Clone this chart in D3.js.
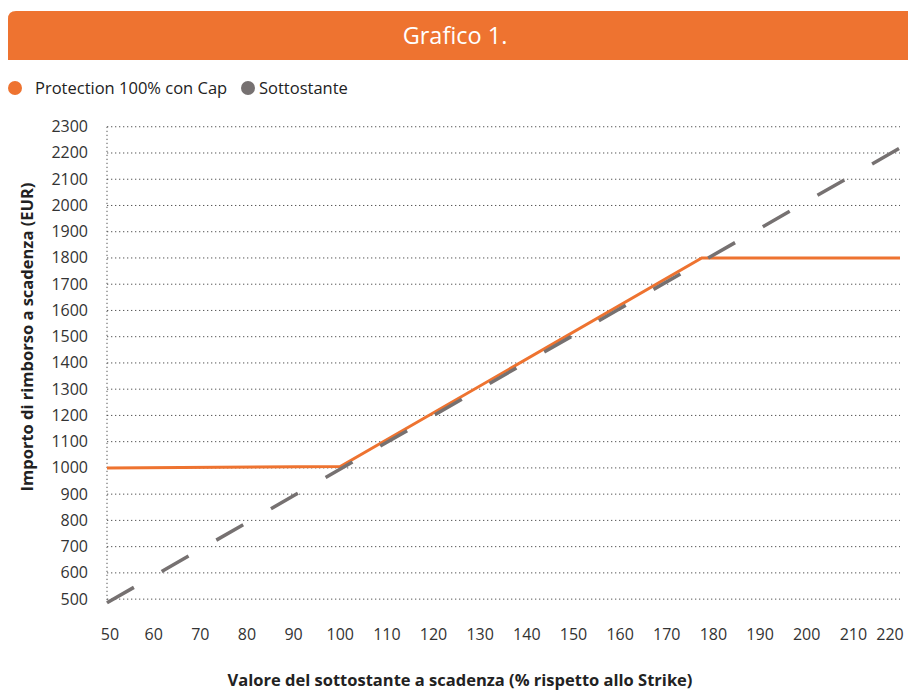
<!DOCTYPE html>
<html lang="it">
<head>
  <meta charset="UTF-8">
  <title>Grafico 1.</title>
  <script src="https://d3js.org/d3.v7.min.js"></script>
  <style>
    body { margin: 0; background: #fff; }
    svg { display: block; font-family: "Open Sans", sans-serif; }
    .grid line { stroke: #555; stroke-width: 1; stroke-dasharray: 1.3,2.7; }
    .tick-label { font-size: 16px; fill: #333; }
    .axis-title { font-size: 16.5px; font-weight: bold; fill: #222; }
  </style>
</head>
<body>
  <svg width="908" height="691"></svg>
  <script>
    // valori
    const xTicks = [50, 60, 70, 80, 90, 100, 110, 120, 130, 140, 150, 160, 170, 180, 190, 200, 210, 220];
    const yTicks = [500, 600, 700, 800, 900, 1000, 1100, 1200, 1300, 1400, 1500, 1600, 1700, 1800, 1900, 2000, 2100, 2200, 2300];
    const protectionX = [50, 100, 177.5, 220];
    const protectionY = [1000, 1005, 1800, 1800];
    const sottostanteX = [50, 220];
    const sottostanteY = [486, 2219];

    const orange = '#ee7330';
    const grey = '#767171';

    const svg = d3.select('svg');

    const x = d3.scaleLinear().domain([50, 220]).range([107, 900]);
    const y = d3.scaleLinear().domain([470, 2300]).range([607, 126.75]);

    // header
    svg.append('path')
      .attr('d', 'M8,60 V19 Q8,11 16,11 H908 V60 Z')
      .attr('fill', orange);
    svg.append('text')
      .attr('x', 455).attr('y', 44)
      .attr('text-anchor', 'middle')
      .attr('fill', '#fff')
      .style('font-size', '23.5px')
      .text('Grafico 1.');

    // legend
    svg.append('circle').attr('cx', 15).attr('cy', 88).attr('r', 7).attr('fill', orange);
    svg.append('text').attr('x', 35).attr('y', 94).style('font-size', '16.5px').attr('fill', '#222')
      .text('Protection 100% con Cap');
    svg.append('circle').attr('cx', 248).attr('cy', 88).attr('r', 7).attr('fill', grey);
    svg.append('text').attr('x', 259).attr('y', 94).style('font-size', '16.5px').attr('fill', '#222')
      .text('Sottostante');

    // grid
    const grid = svg.append('g').attr('class', 'grid');
    grid.selectAll('line.h')
      .data(yTicks)
      .join('line')
      .attr('x1', x(50)).attr('x2', x(220))
      .attr('y1', d => y(d)).attr('y2', d => y(d));
    grid.append('line')
      .attr('x1', x(50)).attr('x2', x(50))
      .attr('y1', y(2300)).attr('y2', y(470) - 4);

    // y labels
    svg.selectAll('text.ylab')
      .data(yTicks)
      .join('text')
      .attr('class', 'tick-label ylab')
      .attr('x', 88)
      .attr('y', d => y(d) + 5.5)
      .attr('text-anchor', 'end')
      .text(d => d);

    // x labels
    svg.selectAll('text.xlab')
      .data(xTicks)
      .join('text')
      .attr('class', 'tick-label xlab')
      .attr('x', d => Math.max(110, Math.min(890, x(d))))
      .attr('y', 640)
      .attr('text-anchor', 'middle')
      .text(d => d);

    // axis titles
    svg.append('text')
      .attr('class', 'axis-title')
      .attr('transform', 'translate(33,337) rotate(-90)')
      .attr('text-anchor', 'middle')
      .text('Importo di rimborso a scadenza (EUR)');
    svg.append('text')
      .attr('class', 'axis-title')
      .attr('x', 460).attr('y', 686)
      .attr('text-anchor', 'middle')
      .text('Valore del sottostante a scadenza (% rispetto allo Strike)');

    const line = d3.line().x(d => x(d[0])).y(d => y(d[1]));

    svg.append('path')
      .datum(d3.zip(protectionX, protectionY))
      .attr('d', line)
      .attr('fill', 'none')
      .attr('stroke', orange)
      .attr('stroke-width', 3);

    svg.append('path')
      .datum(d3.zip(sottostanteX, sottostanteY))
      .attr('d', line)
      .attr('fill', 'none')
      .attr('stroke', grey)
      .attr('stroke-width', 3.5)
      .attr('stroke-dasharray', '31,32');
  </script>
</body>
</html>
